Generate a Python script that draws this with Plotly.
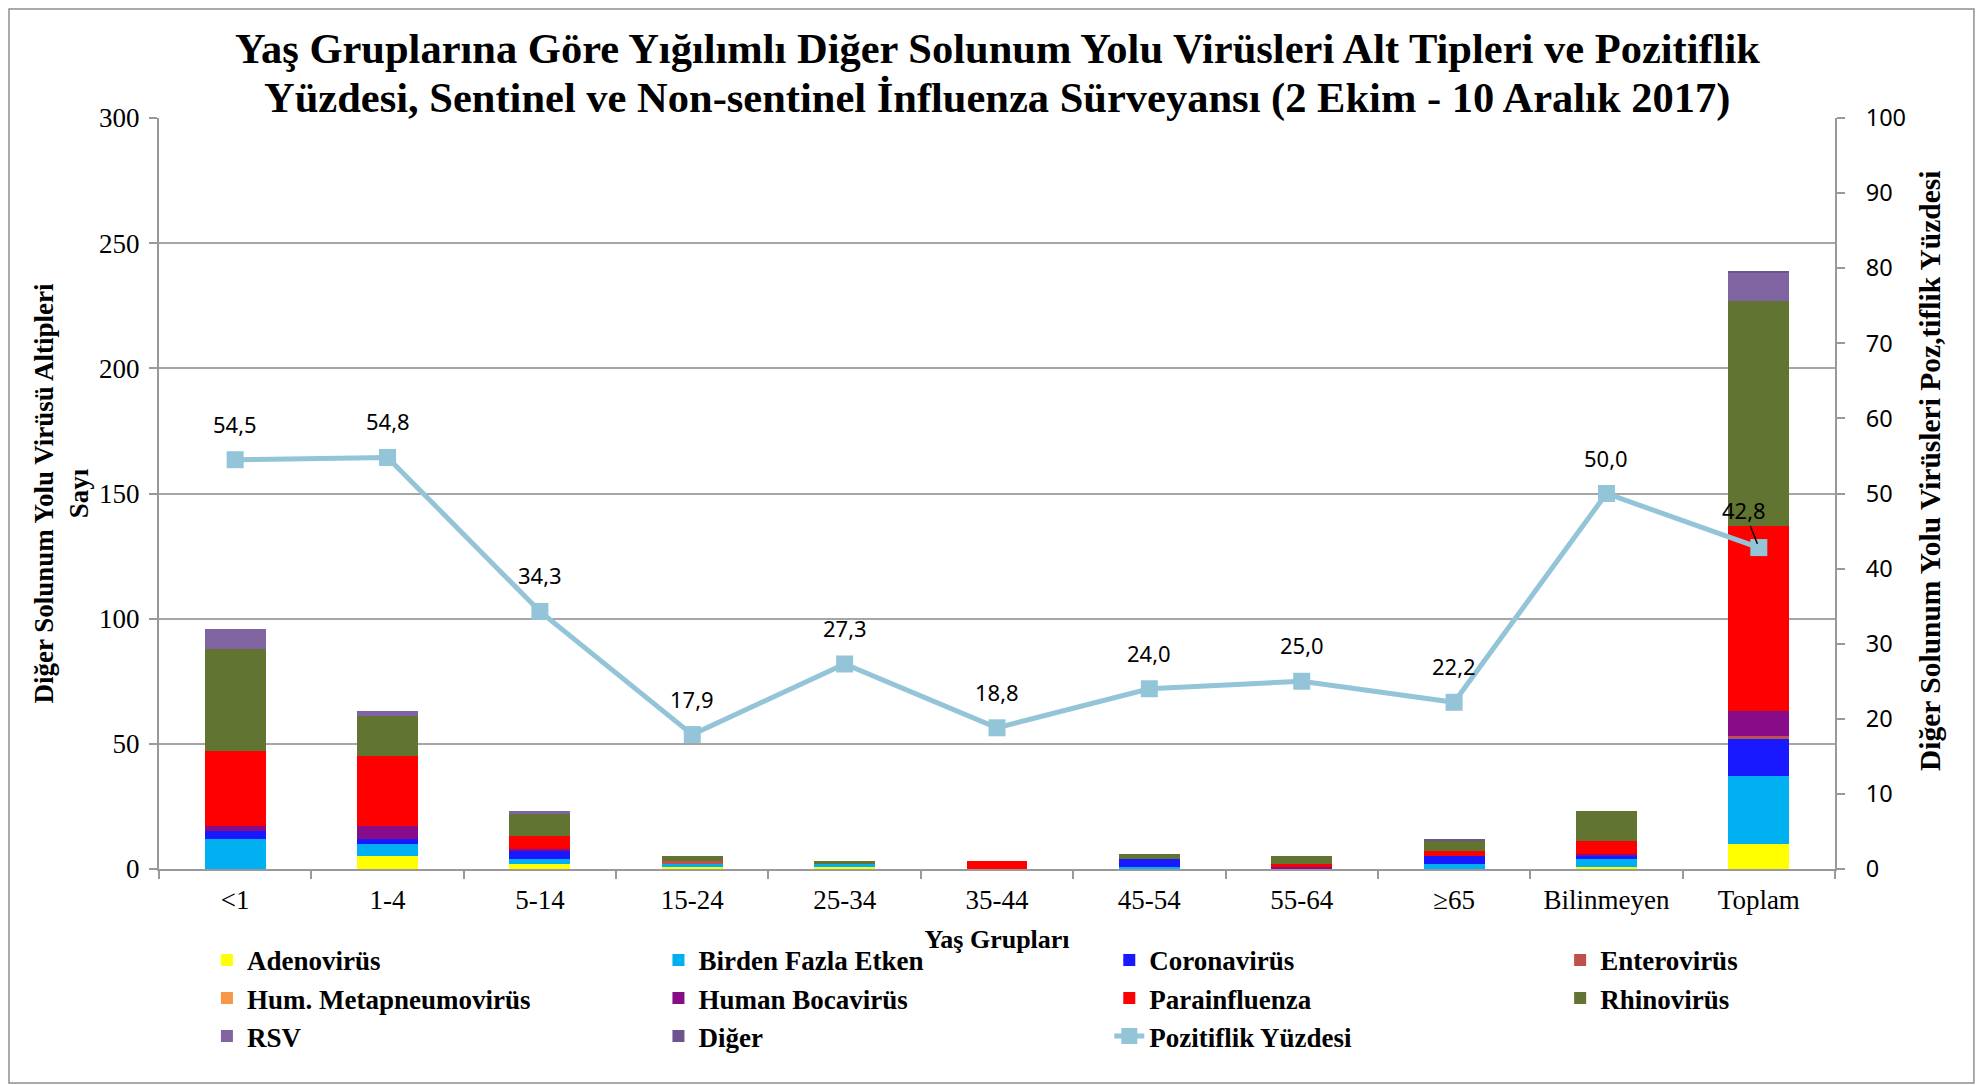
import plotly.graph_objects as go

# age groups and per-virus counts (stacked bottom -> top)
age_groups = ["<1", "1-4", "5-14", "15-24", "25-34", "35-44", "45-54", "55-64", "≥65", "Bilinmeyen", "Toplam"]
adenovirus = [0, 5, 2, 1, 1, 0, 0, 0, 0, 1, 10]
birden_fazla = [12, 5, 2, 1, 1, 0, 1, 0, 2, 3, 27]
coronavirus = [3, 2, 3, 0, 0, 0, 3, 0, 3, 1, 15]
enterovirus = [0, 0, 0, 1, 0, 0, 0, 0, 0, 0, 1]
metapneumo = [0, 0, 0, 0, 0, 0, 0, 0, 0, 0, 0]
bocavirus = [2, 5, 1, 0, 0, 0, 0, 1, 0, 1, 10]
parainfluenza = [30, 28, 5, 0, 0, 3, 0, 1, 2, 5, 74]
rhinovirus = [41, 16, 9, 2, 1, 0, 2, 3, 4, 12, 90]
rsv = [8, 2, 1, 0, 0, 0, 0, 0, 0, 0, 11]
diger = [0, 0, 0, 0, 0, 0, 0, 0, 1, 0, 1]
pozitiflik = [54.5, 54.8, 34.3, 17.9, 27.3, 18.8, 24.0, 25.0, 22.2, 50.0, 42.8]

SERIF = "Liberation Serif"
SANS = "Noto Sans"

# (name, values, colour, legend column)
series = [
    ("Adenovirüs", adenovirus, "#FFFF00", "legend"),
    ("Birden Fazla Etken", birden_fazla, "#00B0F0", "legend2"),
    ("Coronavirüs", coronavirus, "#1919FF", "legend3"),
    ("Enterovirüs", enterovirus, "#C0504D", "legend4"),
    ("Hum. Metapneumovirüs", metapneumo, "#F79646", "legend"),
    ("Human Bocavirüs", bocavirus, "#880C88", "legend2"),
    ("Parainfluenza", parainfluenza, "#FF0000", "legend3"),
    ("Rhinovirüs", rhinovirus, "#627432", "legend4"),
    ("RSV", rsv, "#8064A2", "legend"),
    ("Diğer", diger, "#6C558E", "legend2"),
]

fig = go.Figure()

for name, values, color, leg in series:
    fig.add_trace(go.Bar(x=age_groups, y=values, name=name, legend=leg,
                         marker=dict(color=color, line=dict(width=0)),
                         width=0.4))

fig.add_trace(go.Scatter(x=age_groups, y=pozitiflik, name="Pozitiflik Yüzdesi",
                         yaxis="y2", mode="lines+markers", legend="legend3",
                         line=dict(color="#93C4D8", width=5),
                         marker=dict(symbol="square", size=17, color="#93C4D8")))

# data labels with decimal comma
for i, (cat, val) in enumerate(zip(age_groups, pozitiflik)):
    label = f"{val:.1f}".replace(".", ",")
    if i == len(age_groups) - 1:
        fig.add_annotation(x=cat, y=val, yref="y2", text=label, showarrow=True,
                           arrowhead=0, arrowwidth=1.5, arrowcolor="black",
                           ax=-15, ay=-38, standoff=4,
                           font=dict(family=SANS, size=22, color="black"))
    else:
        fig.add_annotation(x=cat, y=val, yref="y2", text=label, showarrow=False,
                           yshift=36, font=dict(family=SANS, size=22, color="black"))

# title as two lines, tighter line spacing than plotly's default
title_font = dict(family=SERIF, size=42.5, color="black")
fig.add_annotation(xref="paper", yref="paper", x=0.5, y=1.0919, showarrow=False,
                   xanchor="center", yanchor="middle",
                   text="<b>Yaş Gruplarına Göre Yığılımlı Diğer Solunum Yolu Virüsleri Alt Tipleri ve Pozitiflik</b>",
                   font=title_font)
fig.add_annotation(xref="paper", yref="paper", x=0.5, y=1.0266, showarrow=False,
                   xanchor="center", yanchor="middle",
                   text="<b>Yüzdesi, Sentinel ve Non-sentinel İnfluenza Sürveyansı (2 Ekim - 10 Aralık 2017)</b>",
                   font=title_font)

# right axis title
fig.add_annotation(xref="paper", yref="paper", x=1.0567, y=0.530, showarrow=False,
                   xanchor="center", yanchor="middle",
                   textangle=-90, text="<b>Diğer Solunum Yolu Virüsleri Poz,tiflik Yüzdesi</b>",
                   font=dict(family=SERIF, size=29.5, color="black"))

leg_font = dict(family=SERIF, size=27, color="black", weight="bold")
leg_common = dict(font=leg_font, yanchor="top", xanchor="left", y=-0.089,
                  bgcolor="rgba(0,0,0,0)", traceorder="normal")

fig.update_layout(
    width=1976, height=1077,
    paper_bgcolor="white", plot_bgcolor="white",
    margin=dict(l=151, r=149, t=110, b=216, autoexpand=False),
    barmode="stack",
    xaxis=dict(type="category", range=[-0.5, len(age_groups) - 0.5],
               tickson="boundaries", ticks="outside", ticklen=8,
               tickcolor="#999999", tickwidth=2, showline=True, linecolor="#999999", linewidth=2,
               showgrid=False, ticklabelstandoff=6,
               tickfont=dict(family=SERIF, size=27, color="black"),
               title=dict(text="<b>Yaş Grupları</b>", standoff=15,
                          font=dict(family=SERIF, size=26, color="black"))),
    yaxis=dict(range=[0, 300], dtick=50, ticks="outside", ticklen=8, tickcolor="#999999",
               tickwidth=2, showline=True, linecolor="#999999", linewidth=2,
               showgrid=True, gridcolor="#A6A6A6", gridwidth=1.5, zeroline=False,
               ticklabelstandoff=4,
               tickfont=dict(family=SERIF, size=27, color="black"),
               title=dict(text="<b>Diğer Solunum Yolu Virüsü Altipleri<br>Sayı</b>", standoff=3,
                          font=dict(family=SERIF, size=27, color="black"))),
    yaxis2=dict(range=[0, 100], dtick=10, overlaying="y", side="right", ticks="outside",
                ticklen=8, tickcolor="#999999", tickwidth=2, showline=True,
                linecolor="#999999", linewidth=2, showgrid=False, zeroline=False,
                ticklabelstandoff=16,
                tickfont=dict(family=SANS, size=23.5, color="black")),
    legend=dict(x=0.0286, **leg_common),
    legend2=dict(x=0.298, **leg_common),
    legend3=dict(x=0.567, **leg_common),
    legend4=dict(x=0.836, **leg_common),
    shapes=[dict(type="rect", xref="paper", yref="paper",
                 x0=-0.0895, x1=1.0829, y0=-0.285, y1=1.1451,
                 line=dict(color="#8F8F8F", width=1.5), layer="below")],
)

fig.write_html("out.html")
